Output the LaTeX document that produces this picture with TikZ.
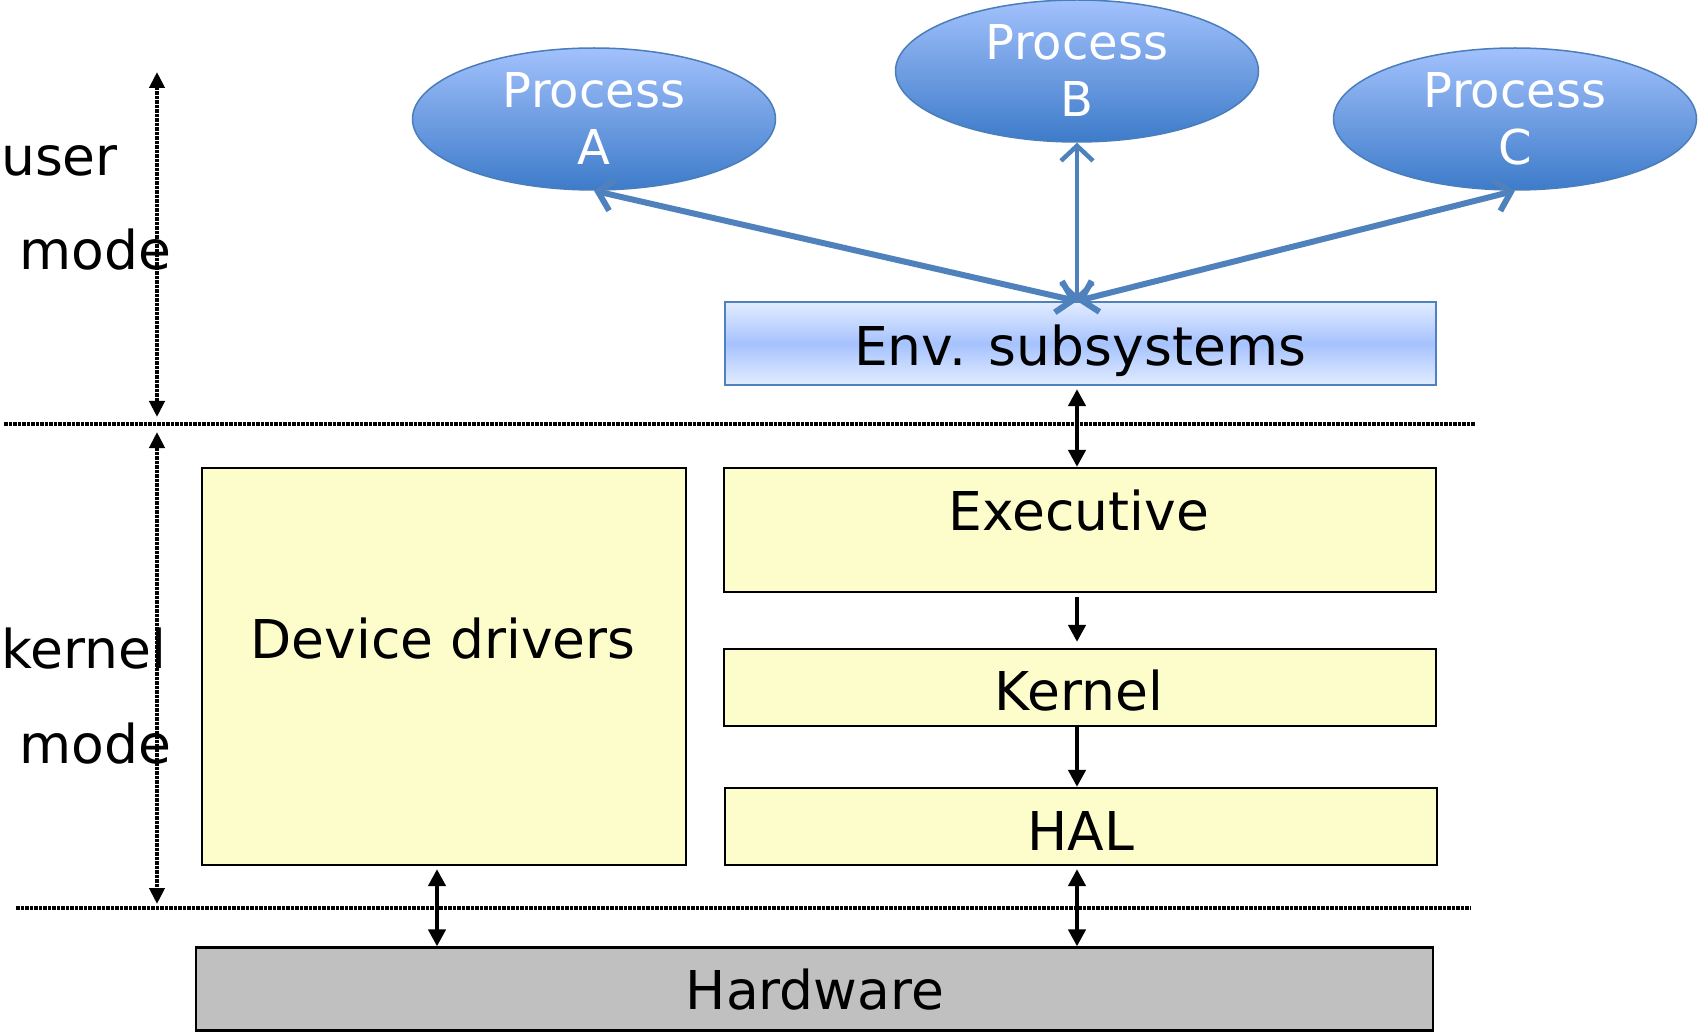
\documentclass[tikz,border=0pt]{standalone}
\usepackage{fontspec}
\setmainfont{DejaVu Sans}
\usetikzlibrary{arrows.meta,shapes.geometric}

\definecolor{procTop}{HTML}{A2C1FC}
\definecolor{procBot}{HTML}{3D7BC9}
\definecolor{procEdge}{HTML}{4A7EBB}
\definecolor{envEdge}{HTML}{4F81BD}
\definecolor{envMid}{HTML}{A6C3FE}
\definecolor{envOut}{HTML}{E2ECFF}
\definecolor{layerFill}{HTML}{FDFDCC}
\definecolor{hwGray}{HTML}{C0C0C0}
\definecolor{linkBlue}{HTML}{4F81BD}

\tikzset{
  proc/.style={ellipse, draw=procEdge, line width=1.5pt,
    top color=procTop, bottom color=procBot,
    minimum width=363pt, minimum height=142pt, inner sep=0pt,
    text=white, font=\fontsize{48}{57}\selectfont, align=center},
  layerbox/.style={draw=black, line width=2.2pt, fill=layerFill, inner sep=0pt},
  envbox/.style={draw=envEdge, line width=2.2pt, inner sep=0pt,
    top color=envOut, bottom color=envOut, middle color=envMid},
  hwbox/.style={draw=black, line width=2.2pt, fill=hwGray, inner sep=0pt},
  bigtext/.style={font=\fontsize{53.5}{62}\selectfont, anchor=base, inner sep=0pt},
  sidetext/.style={font=\fontsize{53.5}{62}\selectfont, anchor=base west, inner sep=0pt},
  envlink/.style={draw=linkBlue, line width=6pt,
    {Straight Barb[length=15pt,width=32pt]}-{Straight Barb[length=15pt,width=32pt]}},
  callarrow/.style={draw=black, line width=4.5pt, -{Triangle[length=17pt,width=17pt]}},
  dblarrow/.style={draw=black, line width=4.5pt,
    {Triangle[length=17pt,width=17pt]}-{Triangle[length=17pt,width=17pt]}},
  modearrow/.style={draw=black, line width=4pt, dash pattern=on 3.5pt off 1pt,
    {Triangle[length=16pt,width=15pt]}-{Triangle[length=16pt,width=15pt]}},
  border/.style={draw=black, line width=4pt, dash pattern=on 3.5pt off 1pt},
}

\begin{document}
\begin{tikzpicture}[x=1pt, y=-1pt]
  \useasboundingbox (0,0) rectangle (1701,1032);

  % user processes
  \node[proc] (pa) at (594,119) {Process\\A};
  \node[proc] (pb) at (1077,71) {Process\\B};
  \node[proc] (pc) at (1515,119) {Process\\C};

  % environment subsystems
  \node[envbox, minimum width=711pt, minimum height=83pt] (env) at (1080.5,343.5) {};
  \node[bigtext] (envT) at (1080,365.5) {Env. subsystems};

  % kernel-mode layers
  \node[layerbox, minimum width=712pt, minimum height=124pt] (exec) at (1080,530) {};
  \node[bigtext] (execT) at (1079,530.5) {Executive};
  \node[layerbox, minimum width=712pt, minimum height=77pt] (kern) at (1080,687.5) {};
  \node[bigtext] (kernT) at (1079,710.5) {Kernel};
  \node[layerbox, minimum width=712pt, minimum height=77pt] (hal) at (1081,826.5) {};
  \node[bigtext] (halT) at (1081,850.5) {HAL};
  \node[layerbox, minimum width=484pt, minimum height=397pt] (dd) at (444,666.5) {};
  \node[bigtext] (ddT) at (443,658.5) {Device drivers};

  % hardware
  \node[hwbox, minimum width=1237pt, minimum height=83pt] (hw) at (814.5,989) {};
  \node[bigtext] (hwT) at (815,1009.5) {Hardware};

  % mode labels
  \node[sidetext] (userT) at (1,176) {user};
  \node[sidetext] (userM) at (19,270) {mode};
  \node[sidetext] (kernelT) at (1,668) {kernel};
  \node[sidetext] (kernelM) at (19,763) {mode};

  % mode boundaries
  \coordinate (b1w) at (4,424);
  \coordinate (b1e) at (1475,424);
  \coordinate (b2w) at (16,908);
  \coordinate (b2e) at (1470,908);
  \draw[border] (b1w) -- (b1e);
  \draw[border] (b2w) -- (b2e);

  % extent of each mode
  \coordinate (u1) at (157,72);
  \coordinate (u2) at (157,417);
  \coordinate (k1) at (157,432);
  \coordinate (k2) at (157,904);
  \draw[modearrow] (u1) -- (u2);
  \draw[modearrow] (k1) -- (k2);

  % process <-> subsystem links
  \coordinate (hub) at (1077,301);
  \draw[envlink] (pa.south) -- (hub);
  \draw[envlink, line width=4.5pt] (pb.south) -- (hub);
  \draw[envlink] (pc.south) -- (hub);

  % layer calls
  \coordinate (col) at (1077,0);
  \coordinate (ddcol) at (437,0);
  \draw[dblarrow, shorten <=3pt] (env.south -| col) -- (exec.north -| col);
  \draw[callarrow, shorten <=4pt, shorten >=6pt] (exec.south -| col) -- (kern.north -| col);
  \draw[callarrow] (kern.south -| col) -- (hal.north -| col);
  \draw[dblarrow, shorten <=3pt] (hal.south -| col) -- (hw.north -| col);
  \draw[dblarrow, shorten <=3pt] (dd.south -| ddcol) -- (hw.north -| ddcol);
\end{tikzpicture}
\end{document}
